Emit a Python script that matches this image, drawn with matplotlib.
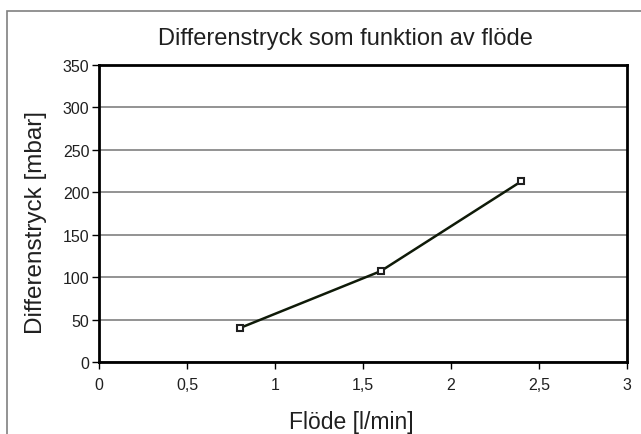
import matplotlib
matplotlib.use("Agg")
import matplotlib.pyplot as plt
from matplotlib.patches import Rectangle
from matplotlib.ticker import FuncFormatter

flow = [0.8, 1.6, 2.4]
pressure = [40, 107, 213]
title = "Differenstryck som funktion av flöde"
xlabel = "Flöde [l/min]"
ylabel = "Differenstryck [mbar]"

plt.rcParams['font.family'] = ['Liberation Sans', 'DejaVu Sans']

fig = plt.figure(figsize=(6.41, 4.35), dpi=100)
fig.patches.append(Rectangle((7/641, -0.2), 1.2, 0.2 + (435-12)/435, transform=fig.transFigure,
                             fill=False, edgecolor='#808080', linewidth=1.2))
ax = fig.add_axes([99/641, (435-363)/435, (627-99)/641, (363-66)/435])
ax.set_xlim(0, 3)
ax.set_ylim(0, 350)
ax.set_xticks([0, 0.5, 1, 1.5, 2, 2.5, 3])
ax.set_yticks(range(0, 351, 50))
ax.xaxis.set_major_formatter(FuncFormatter(lambda v, p: ('%g' % v).replace('.', ',')))
ax.yaxis.grid(True, color='#808080', linewidth=1.2)
ax.set_axisbelow(True)
for s in ax.spines.values():
    s.set_linewidth(2)
    s.set_color('black')
ax.tick_params(axis='both', direction='out', length=5, width=1, labelsize=11.5, colors='black',
               labelcolor='#202020')
ax.tick_params(axis='x', pad=6)
ax.tick_params(axis='y', pad=2)
ax.plot(flow, pressure, color='#0f1a08', linewidth=1.8, marker='s', markersize=5,
        markerfacecolor='white', markeredgecolor='#202020', markeredgewidth=1.5, clip_on=False)
fig.text(345/641, 1 - 45/435, title, ha='center', va='baseline', fontsize=17, color='#202020')
fig.text(351/641, 1 - 429/435, xlabel, ha='center', va='baseline', fontsize=16.5, color='#202020')
fig.text(36.5/641, 1 - 223/435, ylabel, ha='center', va='center', rotation=90, fontsize=17.5, color='#202020')
fig.savefig('out.png', dpi=100)
